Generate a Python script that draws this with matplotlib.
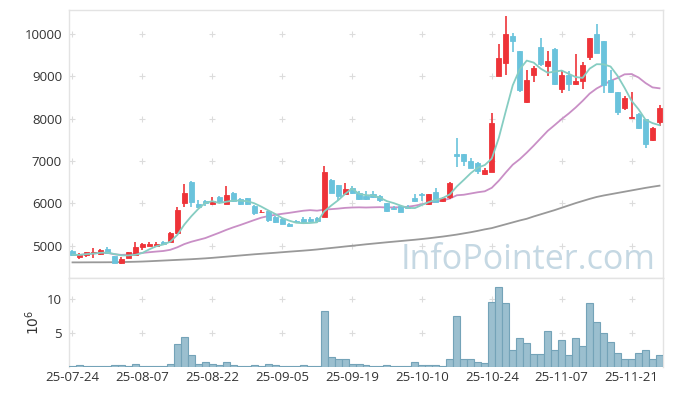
import matplotlib
matplotlib.use("Agg")
import matplotlib.pyplot as plt
import numpy as np
import pandas as pd

plt.rcParams['font.family'] = ['Open Sans', 'DejaVu Sans']

# ---- data ----
dates = ["25-07-24","25-07-25","25-07-28","25-07-29","25-07-30","25-07-31","25-08-01",
         "25-08-04","25-08-05","25-08-06","25-08-07","25-08-08","25-08-11","25-08-12",
         "25-08-13","25-08-14","25-08-18","25-08-19","25-08-20","25-08-21","25-08-22",
         "25-08-25","25-08-26","25-08-27","25-08-28","25-08-29","25-09-01","25-09-02",
         "25-09-03","25-09-04","25-09-05","25-09-08","25-09-09","25-09-10","25-09-11",
         "25-09-12","25-09-15","25-09-16","25-09-17","25-09-18","25-09-19","25-09-22",
         "25-09-23","25-09-24","25-09-25","25-09-26","25-09-29","25-09-30","25-10-01",
         "25-10-02","25-10-10","25-10-13","25-10-14","25-10-15","25-10-16","25-10-17",
         "25-10-20","25-10-21","25-10-22","25-10-23","25-10-24","25-10-27","25-10-28",
         "25-10-29","25-10-30","25-10-31","25-11-03","25-11-04","25-11-05","25-11-06",
         "25-11-07","25-11-10","25-11-11","25-11-12","25-11-13","25-11-14","25-11-17",
         "25-11-18","25-11-19","25-11-20","25-11-21","25-11-24","25-11-25","25-11-26",
         "25-11-27"]

opens = [4866,4740,4787,4835,4803,4930,4756,4584,4717,4780,4969,5000,4985,5080,5094,
         5300,6000,6504,5985,6055,5985,6142,5992,6245,6095,6119,5937,5790,5819,5677,
         5637,5512,5575,5637,5637,5654,5685,6551,6433,6221,6370,6237,6182,6214,6182,
         6000,5882,5937,5921,6119,6214,5977,6261,6055,6143,7166,7166,7000,6946,6693,
         6748,9008,9308,9953,9598,8401,9039,9693,9252,9646,8709,9032,8812,8897,9449,
         10000,9835,8913,8623,8244,8010,8103,7993,7490,7914]
highs = [4898,4820,4860,4938,4910,4960,4760,4740,4860,5080,5060,5080,5090,5100,5320,
         5921,6450,6520,6079,6080,6140,6180,6410,6260,6120,6130,5950,5850,5830,5690,
         5650,5530,5600,5680,5680,5670,6890,6570,6440,6481,6400,6290,6290,6280,6200,
         6000,5930,5960,5960,6230,6250,6230,6370,6140,6500,7536,7170,7060,6980,6830,
         8127,9756,10425,10016,9600,9140,9250,9900,9600,9660,9130,9120,9528,9330,9900,
         10228,9840,9140,8640,8530,8630,8130,8000,7800,8330]
lows = [4756,4678,4726,4702,4790,4800,4590,4560,4700,4770,4898,4990,4975,5030,5080,
        5270,5906,5906,5890,5940,5950,6000,5990,6040,5970,5950,5720,5760,5560,5530,
        5500,5450,5540,5540,5570,5580,5685,6240,6079,6200,6220,6080,6080,6130,6040,
        5800,5840,5800,5860,6040,6060,5950,6020,6030,6110,6851,6880,6830,6700,6670,
        6740,9008,9030,9580,8640,8370,8860,9250,9000,8800,8600,8650,8800,8700,9380,
        9550,8600,8600,8090,8200,8000,7760,7300,7480,7820]
closes = [4787,4773,4844,4850,4898,4820,4600,4685,4844,4969,5040,5032,5047,5050,5300,
          5843,6245,6032,5921,6000,6055,6025,6190,6055,5992,5992,5780,5800,5607,5567,
          5512,5472,5552,5552,5590,5590,6740,6252,6182,6339,6237,6103,6103,6150,6072,
          5827,5866,5803,5890,6055,6190,6221,6040,6127,6481,7126,6993,6842,6772,6788,
          7890,9426,10000,9842,8677,8913,9190,9284,9362,8812,9032,8812,8897,9268,9898,
          9559,8796,8637,8165,8488,8030,7788,7395,7773,8245]
volumes = [0.12,0.22,0.12,0.2,0.2,0.2,0.35,0.25,0.12,0.5,0.12,0.12,0.2,0.12,0.5,3.4,4.4,1.7,
           0.5,0.8,0.5,0.35,0.8,0.35,0.2,0.2,0.35,0.2,0.5,0.35,0.2,0.12,0.2,0.35,0.2,0.2,
           8.2,1.5,1.1,1.1,0.5,0.5,0.35,0.2,0.2,0.35,0.08,0.08,0.08,0.8,0.35,0.35,0.35,
           0.08,1.2,7.5,1.2,1.1,0.8,0.65,9.5,11.75,9.4,2.55,4.3,3.55,1.95,1.95,5.2,2.55,
           4.0,1.8,4.3,3.1,9.3,6.6,4.9,3.7,2.1,1.2,1.1,2.1,2.55,1.2,1.8]
ma60 = [4605,4605,4606,4607,4607,4608,4609,4612,4616,4620,4625,4632,4640,4648,4656,
        4664,4672,4680,4690,4700,4712,4726,4740,4754,4768,4782,4796,4808,4820,4832,
        4845,4858,4870,4882,4895,4910,4928,4945,4962,4980,4997,5014,5032,5048,5064,
        5080,5095,5110,5125,5140,5157,5175,5195,5215,5238,5262,5290,5318,5350,5385,
        5415,5460,5505,5550,5595,5635,5690,5740,5790,5840,5895,5950,6005,6055,6105,
        6150,6185,6215,6245,6275,6305,6335,6365,6392,6417]
price_ticks = [5000, 6000, 7000, 8000, 9000, 10000]
vol_ticks = [5, 10]
label_idx = [0, 10, 20, 30, 40, 50, 60, 70, 80]

# ---- figure ----
fig = plt.figure(figsize=(6.73, 3.96), dpi=100)
ax = fig.add_axes([69/673, (396-278)/396, (663-69)/673, (278-10)/396])
axv = fig.add_axes([69/673, (396-367)/396, (663-69)/673, (367-278)/396], sharex=ax)

n = len(closes)
x = np.arange(n)
o = np.array(opens); c = np.array(closes); h = np.array(highs); l = np.array(lows)
up = c >= o
red = '#ee3338'
cyan = '#6ac3dc'
cols = np.where(up, red, cyan)

ax.vlines(x, l, h, colors=cols, linewidth=1.2, zorder=3)
ax.bar(x, np.abs(c - o), bottom=np.minimum(o, c), width=0.72, color=cols,
       edgecolor=cols, linewidth=0.6, zorder=4)

s = pd.Series(c, dtype=float)
ma5 = s.rolling(5, min_periods=1).mean()
ma20 = s.rolling(20, min_periods=1).mean()
ax.plot(x, ma5, color='#86cdc2', lw=1.3, zorder=5)
ax.plot(x, ma20, color='#c98fc6', lw=1.3, zorder=2)
ax.plot(x, ma60, color='#999999', lw=1.3, zorder=2)

# grid as plus marks
gx, gy = np.meshgrid(label_idx, price_ticks)
ax.plot(gx.ravel(), gy.ravel(), '+', color='#dcdcdc', ms=5, mew=0.8, zorder=1)

ax.set_xlim(-0.5, n - 0.5)
ax.set_ylim(4236, 10567)
ax.set_yticks(price_ticks)
ax.set_yticklabels([str(t) for t in price_ticks])
ax.tick_params(axis='both', length=0, labelsize=9.5, colors='#333333', pad=5)
ax.tick_params(axis='x', labelbottom=False)

ax.text(0.987, 0.005, 'InfoPointer.com', transform=ax.transAxes, ha='right', va='bottom',
        fontsize=24.5, color='#c5d8e3', zorder=0)

# volume
axv.bar(x, volumes, width=1.0, color='#9bbfcf', edgecolor='#74a3b8', linewidth=0.8, zorder=3)
vx, vy = np.meshgrid(label_idx, vol_ticks)
axv.plot(vx.ravel(), vy.ravel(), '+', color='#dcdcdc', ms=5, mew=0.8, zorder=1)
axv.set_ylim(0, 13)
axv.set_yticks(vol_ticks)
axv.set_yticklabels([str(t) for t in vol_ticks])
axv.set_xticks(label_idx)
axv.set_xticklabels([dates[i] for i in label_idx])
axv.tick_params(axis='both', length=0, labelsize=9.5, colors='#333333', pad=5)
axv.tick_params(axis='x', pad=3)
axv.set_ylabel(r'$10^6$', fontsize=10, color='#333333', labelpad=3)

for a in (ax, axv):
    for sp in a.spines.values():
        sp.set_color('#e3e3e3')
        sp.set_linewidth(1.0)
axv.spines['bottom'].set_visible(False)

fig.savefig('out.png', dpi=100)
